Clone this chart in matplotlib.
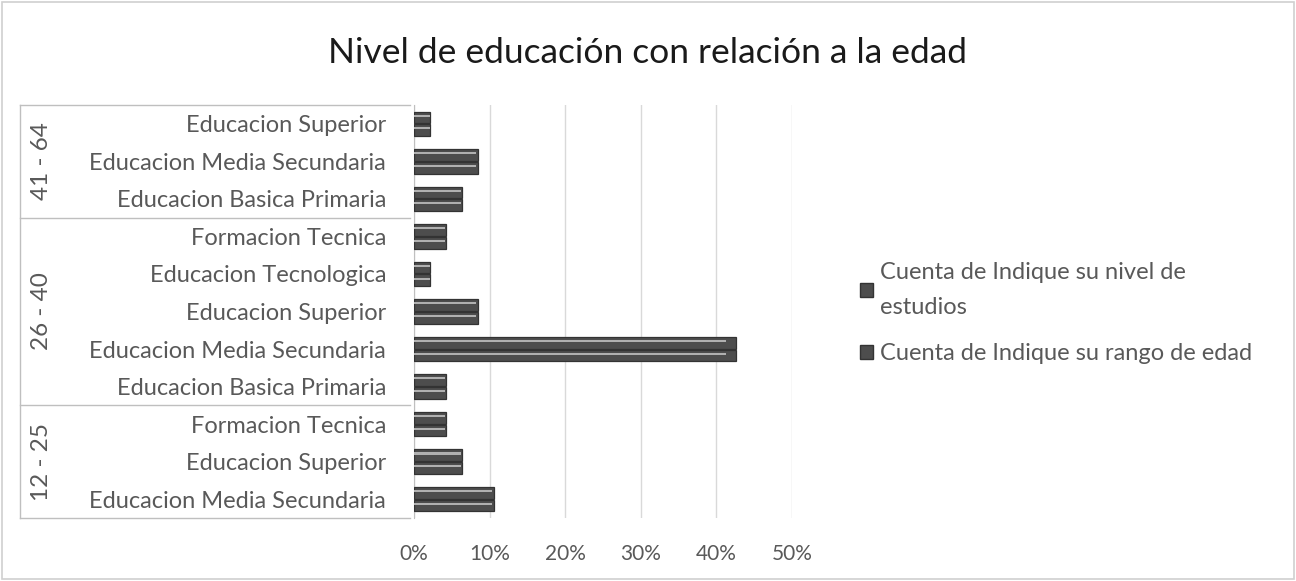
import matplotlib
matplotlib.use("Agg")
import matplotlib.pyplot as plt
from matplotlib.patches import Rectangle
from matplotlib.lines import Line2D
import numpy as np

plt.rcParams['font.family'] = ['Lato', 'DejaVu Sans']

# Data (top to bottom)
groups = ["41 - 64", "26 - 40", "12 - 25"]
group_sizes = [3, 5, 3]
categories = [
    "Educacion Superior", "Educacion Media Secundaria", "Educacion Basica Primaria",
    "Formacion Tecnica", "Educacion Tecnologica", "Educacion Superior",
    "Educacion Media Secundaria", "Educacion Basica Primaria",
    "Formacion Tecnica", "Educacion Superior", "Educacion Media Secundaria",
]
counts_nivel = [1, 4, 3, 2, 1, 4, 20, 2, 2, 3, 5]
counts_rango = [1, 4, 3, 2, 1, 4, 20, 2, 2, 3, 5]
series_names = ["Cuenta de Indique su nivel de\nestudios", "Cuenta de Indique su rango de edad"]
xticks = [0, 0.1, 0.2, 0.3, 0.4, 0.5]
xticklabels = ["0%", "10%", "20%", "30%", "40%", "50%"]
title = "Nivel de educación con relación a la edad"

total = sum(counts_nivel)
v1 = np.array(counts_nivel) / total
v2 = np.array(counts_rango) / total

W, H = 1296, 581
fig = plt.figure(figsize=(W / 100, H / 100), dpi=100)
fig.patch.set_facecolor("white")
# outer border
fig.add_artist(Rectangle((2 / W, 2 / H), 1 - 4 / W, 1 - 4 / H, transform=fig.transFigure,
                         fill=False, edgecolor="#d0d0d0", lw=1.2))

x0, x1 = 414, 792
y0, y1 = 105, 518
ax = fig.add_axes([x0 / W, 1 - y1 / H, (x1 - x0) / W, (y1 - y0) / H])

n = len(categories)
ypos = np.arange(n)
bh = 0.34
dark = "#4d4d4d"
for vals, off in [(v1, -bh / 2), (v2, bh / 2)]:
    ax.barh(ypos + off, vals, height=bh * 0.92, color=dark, edgecolor="#333333", lw=0.9, zorder=3)
    ax.barh(ypos + off - bh * 0.14, vals * 0.97, height=bh * 0.16, color="#b0b0b0", lw=0, zorder=4)

ax.set_ylim(n - 0.5, -0.5)
ax.set_xlim(0, 0.5)
ax.set_xticks(xticks)
ax.set_xticklabels(xticklabels, fontsize=15, color="#595959")
ax.set_yticks(ypos)
ax.set_yticklabels(categories, fontsize=17, color="#595959")
ax.tick_params(axis="both", length=0)
ax.tick_params(axis="x", pad=19)
ax.tick_params(axis="y", pad=20)
ax.grid(axis="x", color="#d9d9d9", lw=1, zorder=0)
for s in ["top", "right", "bottom"]:
    ax.spines[s].set_visible(False)
ax.spines["left"].set_color("#bfbfbf")

# group boxes
trans = ax.get_yaxis_transform()
xl = (20 - x0) / (x1 - x0)
xr = (410 - x0) / (x1 - x0)
bounds = np.cumsum([0] + group_sizes) - 0.5
for b in bounds:
    ax.add_line(Line2D([xl, xr], [b, b], transform=trans, color="#bfbfbf", lw=1, clip_on=False))
ax.add_line(Line2D([xl, xl], [bounds[0], bounds[-1]], transform=trans, color="#bfbfbf", lw=1, clip_on=False))
xg = (42 - x0) / (x1 - x0)
for g, a, b in zip(groups, bounds[:-1], bounds[1:]):
    ax.text(xg, (a + b) / 2, g, transform=trans, rotation=90, ha="center", va="center",
            fontsize=17.5, color="#595959")

fig.text(0.5, 1 - 53 / H, title, ha="center", va="center", fontsize=25.5, color="#1a1a1a")

handles = [Rectangle((0, 0), 1, 1, facecolor=dark, edgecolor="#333333") for _ in series_names]
leg = fig.legend(handles, series_names, loc="upper left", bbox_to_anchor=(860 / W, 1 - 262 / H),
                 frameon=False, fontsize=17, handlelength=0.55, handleheight=0.55,
                 handletextpad=0.3, labelspacing=1.05, borderaxespad=0, borderpad=0)
for t in leg.get_texts():
    t.set_color("#595959")
    t.set_linespacing(1.85)

fig.savefig("out.png", dpi=100)
